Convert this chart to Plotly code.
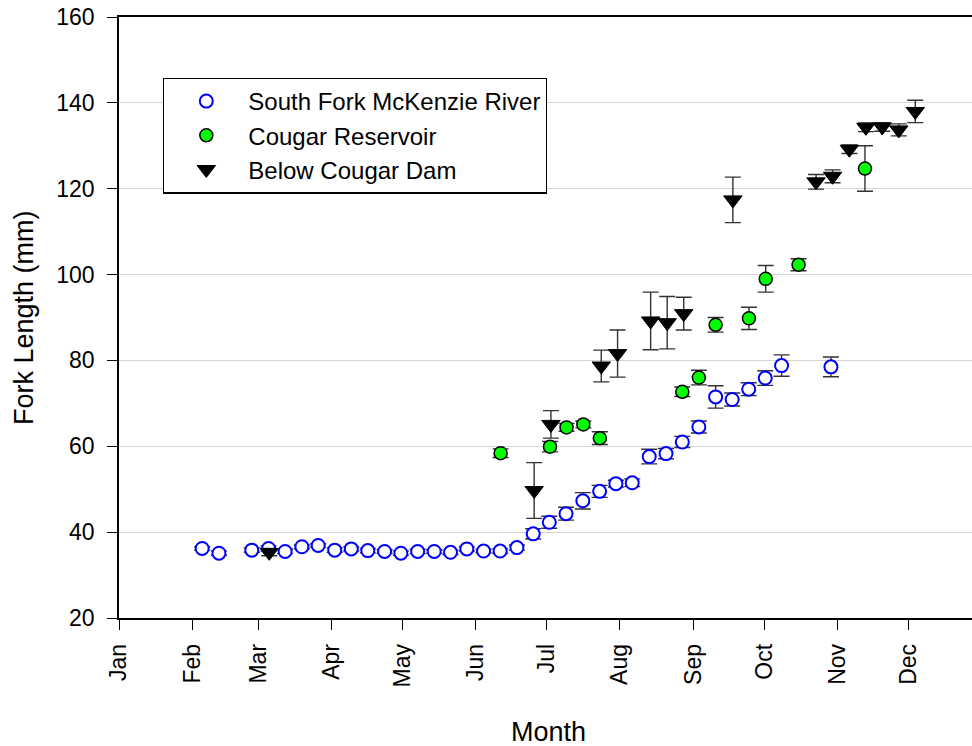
import plotly.graph_objects as go

# ---- data (day of year, fork length mm, +/- error) ----
sf_day = [35.2, 42.3, 56.2, 63.3, 70.3, 77.4, 84.3, 91.3, 98.3, 105.3, 112.4, 119.3,
          126.4, 133.4, 140.3, 147.2, 154.3, 161.3, 168.4, 175.3, 182.1, 189.2, 196.3,
          203.4, 210.3, 217.2, 224.4, 231.5, 238.4, 245.4, 252.5, 259.5, 266.5, 273.5,
          280.4, 301.3]
sf_len = [36.2, 35.1, 35.8, 36.2, 35.5, 36.6, 36.9, 35.8, 36.1, 35.7, 35.5, 35.1,
          35.5, 35.5, 35.3, 36.1, 35.6, 35.6, 36.4, 39.6, 42.3, 44.3, 47.3,
          49.5, 51.3, 51.5, 57.6, 58.3, 61.0, 64.5, 71.5, 70.9, 73.3, 75.9,
          78.8, 78.5]
sf_err = [0.4, 0.5, 0.5, 0.6, 0.5, 0.4, 0.4, 0.5, 0.5, 0.5, 0.4, 0.5,
          0.5, 0.4, 0.5, 0.5, 0.4, 0.5, 0.6, 1.2, 1.4, 1.5, 1.9,
          1.4, 0.8, 0.9, 1.7, 1.2, 1.3, 1.4, 2.6, 1.5, 1.5, 1.7,
          2.5, 2.3]

cr_day = [161.5, 182.4, 189.4, 196.5, 203.5, 238.4, 245.4, 252.5, 266.6, 273.7, 287.6, 315.7]
cr_len = [58.4, 59.9, 64.4, 65.1, 61.9, 72.7, 76.0, 88.3, 89.8, 99.0, 102.3, 124.7]
cr_err = [1.0, 1.2, 0.9, 0.8, 1.5, 1.1, 1.7, 1.7, 2.6, 3.1, 1.4, 5.3]

bd_day = [63.6, 175.7, 182.8, 204.1, 211.0, 225.0, 232.0, 239.0, 259.8, 295.0, 302.0,
          309.1, 316.1, 323.0, 330.0, 337.0]
bd_len = [35.3, 49.7, 65.1, 78.7, 81.6, 89.2, 88.8, 90.9, 117.4, 121.6, 122.9,
          129.2, 134.3, 134.4, 133.7, 138.0]
bd_err = [0.8, 6.5, 3.2, 3.7, 5.5, 6.7, 6.1, 3.8, 5.3, 1.7, 1.5,
          1.0, 1.0, 1.0, 1.4, 2.6]

month_pos = [0, 31, 59, 90, 120, 151, 181, 212, 243, 273, 304, 334]
month_lab = ["Jan", "Feb", "Mar", "Apr", "May", "Jun", "Jul", "Aug", "Sep", "Oct", "Nov", "Dec"]
y_ticks = [20, 40, 60, 80, 100, 120, 140, 160]

FONT = "Liberation Sans, Arial, sans-serif"
ERRC = "#333333"

def eb(vals):
    return dict(type="data", array=vals, visible=True, color=ERRC, thickness=1.4, width=8)

fig = go.Figure()
fig.add_trace(go.Scatter(
    x=sf_day, y=sf_len, error_y=eb(sf_err), mode="markers",
    name="South Fork McKenzie River",
    marker=dict(symbol="circle", size=13, color="white",
                line=dict(color="#0000ff", width=2))))
fig.add_trace(go.Scatter(
    x=cr_day, y=cr_len, error_y=eb(cr_err), mode="markers",
    name="Cougar Reservoir",
    marker=dict(symbol="circle", size=13, color="#00ff00",
                line=dict(color="black", width=1.5))))
fig.add_trace(go.Scatter(
    x=bd_day, y=bd_len, error_y=eb(bd_err), mode="markers",
    name="Below Cougar Dam",
    marker=dict(symbol="triangle-down", size=16, color="black",
                line=dict(color="black", width=1))))

fig.update_layout(
    width=972, height=746,
    margin=dict(l=119, r=0, t=17, b=128, autoexpand=False),
    paper_bgcolor="white", plot_bgcolor="white",
    font=dict(family=FONT, color="black", size=23),
    showlegend=True,
    legend=dict(x=0.0516, y=0.899, xanchor="left", yanchor="top",
                bgcolor="white", bordercolor="black", borderwidth=1.3,
                font=dict(size=24, family=FONT), itemwidth=74,
                tracegroupgap=0),
    xaxis=dict(range=[0, 361], tickmode="array", tickvals=month_pos, ticktext=month_lab,
               tickangle=-90, ticks="outside", ticklen=10, tickwidth=1.4, tickcolor="black",
               showline=True, linecolor="black", linewidth=1.5, mirror=True,
               showgrid=False, zeroline=False, tickfont=dict(size=23),
               ticklabelstandoff=5),
    yaxis=dict(range=[20, 160], tickmode="array", tickvals=y_ticks,
               ticks="outside", ticklen=10, tickwidth=1.4, tickcolor="black",
               showline=True, linecolor="black", linewidth=1.5, mirror=False,
               showgrid=True, gridcolor="#d4d4d4", gridwidth=1, zeroline=False,
               tickfont=dict(size=23), ticklabelstandoff=8),
    annotations=[
        dict(text="Fork Length (mm)", x=-0.112, y=0.5, xref="paper", yref="paper",
             textangle=-90, showarrow=False, font=dict(size=27, family=FONT),
             xanchor="center", yanchor="middle"),
        dict(text="Month", x=0.503, y=-0.189, xref="paper", yref="paper",
             showarrow=False, font=dict(size=27, family=FONT),
             xanchor="center", yanchor="middle"),
    ],
)

fig.write_html("out.html")
